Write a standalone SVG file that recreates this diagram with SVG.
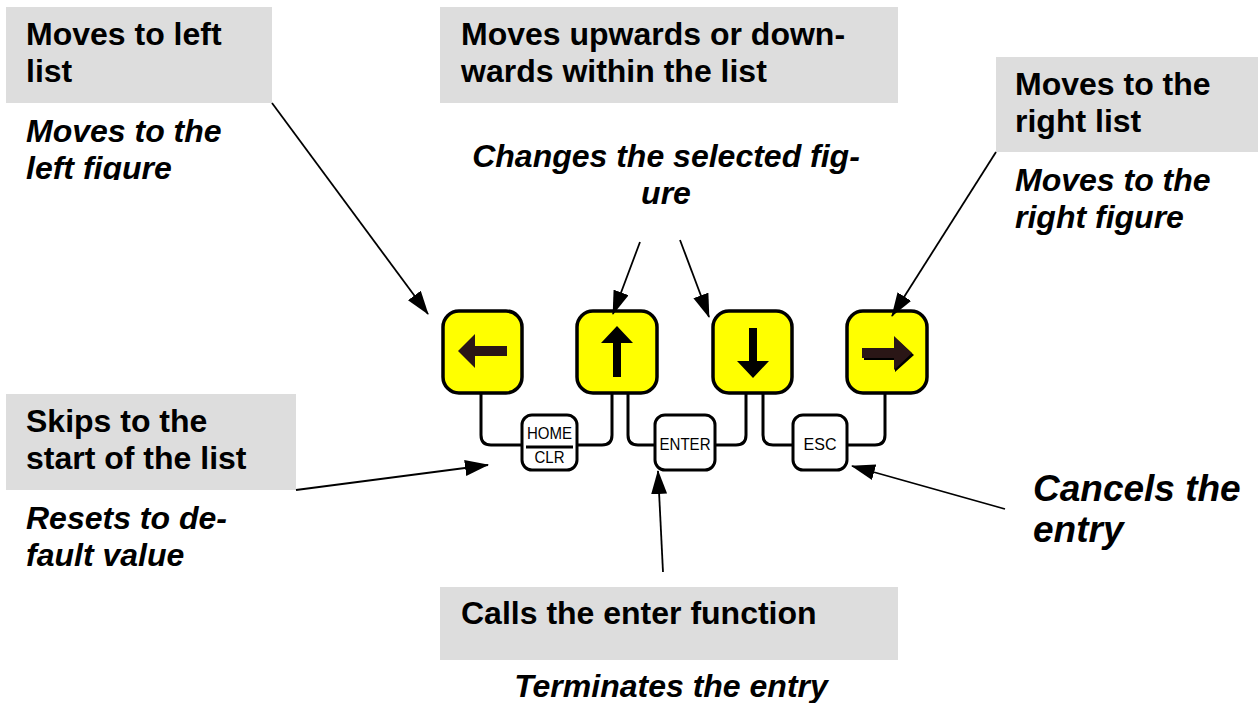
<svg xmlns="http://www.w3.org/2000/svg" width="1258" height="703" viewBox="0 0 1258 703">
  <style>
    .box { fill: #dddddd; }
    .h { font-family: "Liberation Sans", Arial, sans-serif; font-weight: bold; font-size: 32px; fill: #000; }
    .it { font-family: "Liberation Sans", Arial, sans-serif; font-weight: bold; font-style: italic; font-size: 32px; fill: #000; }
    .big { font-size: 37px; }
    .key { fill: #ffff00; stroke: #000; stroke-width: 3.5; }
    .skey { fill: #fff; stroke: #000; stroke-width: 3; }
    .wire { fill: none; stroke: #000; stroke-width: 3; }
    .klbl { font-family: "Liberation Sans", Arial, sans-serif; font-size: 17px; fill: #000; text-anchor: middle; }
    .ptr { stroke: #000; stroke-width: 1.8; fill: none; marker-end: url(#tip); }
  </style>
  <defs>
    <marker id="tip" viewBox="0 0 24 16" refX="23" refY="8" markerWidth="24" markerHeight="16" markerUnits="userSpaceOnUse" orient="auto">
      <path d="M0,0 L24,8 L0,16 Z" fill="#000"/>
    </marker>
    <clipPath id="cutLeft">
      <rect x="0" y="105" width="300" height="75"/>
    </clipPath>
  </defs>

  <rect width="1258" height="703" fill="#fff"/>

  <!-- label boxes -->
  <g id="label-left">
    <rect class="box" x="6" y="7" width="266" height="96"/>
    <text class="h" x="26" y="45">Moves to left</text>
    <text class="h" x="26" y="82">list</text>
    <g clip-path="url(#cutLeft)">
      <text class="it" x="26" y="142">Moves to the</text>
      <text class="it" x="26" y="179">left figure</text>
    </g>
  </g>

  <g id="label-updown">
    <rect class="box" x="440" y="7" width="458" height="96"/>
    <text class="h" x="461" y="45">Moves upwards or down-</text>
    <text class="h" x="461" y="82">wards within the list</text>
    <text class="it" x="666" y="167" text-anchor="middle">Changes the selected fig-</text>
    <text class="it" x="666" y="204" text-anchor="middle">ure</text>
  </g>

  <g id="label-right">
    <rect class="box" x="996" y="57" width="262" height="95"/>
    <text class="h" x="1015" y="95">Moves to the</text>
    <text class="h" x="1015" y="132">right list</text>
    <text class="it" x="1015" y="191">Moves to the</text>
    <text class="it" x="1015" y="228">right figure</text>
  </g>

  <g id="label-home">
    <rect class="box" x="6" y="394" width="290" height="96"/>
    <text class="h" x="26" y="432">Skips to the</text>
    <text class="h" x="26" y="469">start of the list</text>
    <text class="it" x="26" y="529">Resets to de-</text>
    <text class="it" x="26" y="566">fault value</text>
  </g>

  <g id="label-esc">
    <text class="it big" x="1033" y="501">Cancels the</text>
    <text class="it big" x="1033" y="542">entry</text>
  </g>

  <g id="label-enter">
    <rect class="box" x="440" y="587" width="458" height="73"/>
    <text class="h" x="461" y="624">Calls the enter function</text>
    <text class="it" x="671" y="697" text-anchor="middle">Terminates the entry</text>
  </g>

  <!-- wiring between the keys -->
  <g id="key-wiring">
    <path class="wire" d="M481,393 V435 Q481,445 491,445 H522"/>
    <path class="wire" d="M612,393 V435 Q612,445 602,445 H577"/>
    <path class="wire" d="M628,393 V435 Q628,445 638,445 H655"/>
    <path class="wire" d="M746,393 V435 Q746,445 736,445 H715"/>
    <path class="wire" d="M763,393 V435 Q763,445 773,445 H793"/>
    <path class="wire" d="M885,393 V435 Q885,445 875,445 H847"/>
  </g>

  <!-- cursor keys -->
  <g id="key-left">
    <rect class="key" x="443" y="311" width="79" height="82" rx="16"/>
    <path d="M458,351 L475,334 L475,346 L507,346 L507,356 L475,356 L475,368 Z" fill="#2a1616"/>
  </g>
  <g id="key-up">
    <rect class="key" x="577" y="311" width="80" height="82" rx="16"/>
    <path d="M617,326 L633,343 L621,343 L621,377 L613,377 L613,343 L601,343 Z" fill="#000"/>
  </g>
  <g id="key-down">
    <rect class="key" x="713" y="311" width="79" height="82" rx="16"/>
    <path d="M753,378 L769,361 L757,361 L757,328 L749,328 L749,361 L737,361 Z" fill="#000"/>
  </g>
  <g id="key-right">
    <rect class="key" x="847" y="311" width="80" height="82" rx="16"/>
    <path d="M914,355 L895,338 L895,350 L864,350 L864,360 L895,360 L895,372 Z" fill="#000"/>
    <path d="M912,353 L894,336 L894,348 L862,348 L862,358 L894,358 L894,370 Z" fill="#2a1616"/>
  </g>

  <!-- function keys -->
  <g id="key-home">
    <rect class="skey" x="522" y="415" width="55" height="55" rx="10"/>
    <text class="klbl" x="549.5" y="439" textLength="45" lengthAdjust="spacingAndGlyphs">HOME</text>
    <line x1="526" y1="447" x2="573" y2="447" stroke="#000" stroke-width="3"/>
    <text class="klbl" x="549.5" y="463" textLength="30" lengthAdjust="spacingAndGlyphs">CLR</text>
  </g>
  <g id="key-enter">
    <rect class="skey" x="655" y="415" width="60" height="55" rx="10"/>
    <text class="klbl" x="685" y="450" textLength="51" lengthAdjust="spacingAndGlyphs">ENTER</text>
  </g>
  <g id="key-esc">
    <rect class="skey" x="793" y="415" width="54" height="55" rx="10"/>
    <text class="klbl" x="820" y="450" textLength="33" lengthAdjust="spacingAndGlyphs">ESC</text>
  </g>

  <!-- pointers from labels to keys -->
  <g id="pointers">
    <line class="ptr" x1="272" y1="103" x2="428" y2="314"/>
    <line class="ptr" x1="640" y1="242" x2="613" y2="314"/>
    <line class="ptr" x1="680" y1="240" x2="709" y2="317"/>
    <line class="ptr" x1="996" y1="152" x2="892" y2="316"/>
    <line class="ptr" x1="296" y1="490" x2="488" y2="465"/>
    <line class="ptr" x1="663" y1="572" x2="658" y2="471"/>
    <line class="ptr" x1="1005" y1="509" x2="852" y2="466"/>
  </g>
</svg>
